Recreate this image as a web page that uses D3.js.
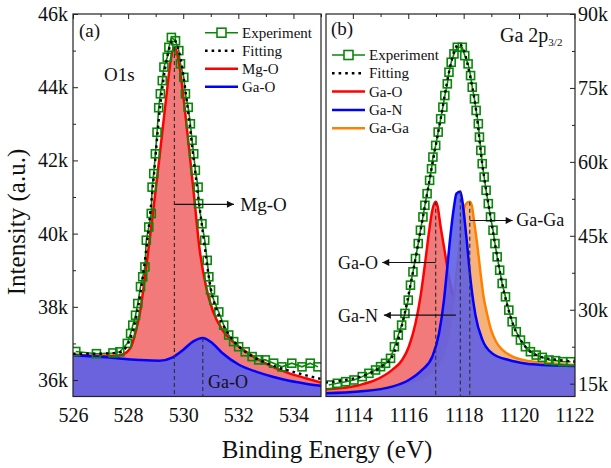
<!DOCTYPE html>
<html><head><meta charset="utf-8">
<script src="https://cdn.jsdelivr.net/npm/d3@7"></script>
<style>
html,body{margin:0;padding:0;background:#fff;}
svg, svg text{font-family:'Liberation Serif','Times New Roman',Tinos,'DejaVu Serif',serif;}
</style></head><body>
<svg id="chart" width="611" height="468"></svg>
<script>
// ---------- Panel (a): O 1s ----------
const o1sExpE = [526.1,526.85,527.45,527.7,527.97,528.09,528.17,528.27,528.35,528.45,528.53,528.61,528.66,528.75,528.84,528.87,528.93,528.99,529.05,529.11,529.17,529.24,529.30,529.42,529.48,529.57,529.72,529.84,529.90,530.02,530.08,530.18,530.26,530.32,530.38,530.44,530.54,530.56,530.68,530.78,530.87,530.93,530.99,531.11,531.29,531.47,531.65,531.83,532.01,532.25,532.50,532.74,532.98,533.28,533.58,533.94,534.31,534.61,534.89];
const o1sExpI = [36780,36720,36740,36770,37000,37270,37500,37770,38090,38550,38820,39090,39820,40180,40550,41270,41640,42180,42770,43440,43820,44180,44550,44820,45090,45360,45270,45000,44640,44270,43820,43450,43000,42550,42180,41730,41270,40820,40270,39820,39270,38820,38460,38180,37860,37500,37230,37050,36910,36770,36640,36550,36550,36460,36360,36460,36360,36460,36360];
const o1sFitE = [526.0,527.0,527.7,528.0,528.3,528.6,528.9,529.15,529.4,529.65,529.9,530.15,530.4,530.7,531.0,531.3,531.65,532.0,532.5,533.0,533.5,534.0,534.5,535.0];
const o1sFitI = [36720,36720,36760,37000,37750,39200,41300,43400,44750,45300,44800,43500,41900,40100,38500,37750,37250,36930,36650,36470,36330,36220,36120,36030];
const mgoE = [526.0,527.0,527.5,527.8,528.1,528.25,528.42,528.66,528.9,529.14,529.38,529.56,529.68,529.86,530.05,530.23,530.41,530.59,530.83,531.07,531.43,531.8,532.04,532.64,533.25,533.85,534.45,535.0];
const mgoI = [36700,36660,36660,36700,36900,37250,37800,39100,40550,42100,43700,44800,45100,44600,43450,42200,40900,39600,38550,37900,37360,37050,36900,36600,36360,36180,36050,35930];
const gaoAE = [526.0,527.2,528.4,529.14,529.62,529.99,530.35,530.71,531.07,531.43,532.04,532.64,533.25,533.85,534.45,535.0];
const gaoAI = [36680,36620,36550,36530,36620,36820,37050,37150,37000,36730,36410,36230,36090,35980,35900,35840];
const o1sPeakE = [529.68, 530.71];
const o1sPeakI = [45100, 37150];

// ---------- Panel (b): Ga 2p3/2 ----------
const gaExpE = [1113.13,1113.44,1113.74,1114.04,1114.34,1114.58,1114.82,1115.00,1115.18,1115.36,1115.50,1115.64,1115.76,1115.88,1116.00,1116.08,1116.17,1116.26,1116.36,1116.44,1116.53,1116.60,1116.68,1116.77,1116.84,1116.89,1116.99,1117.08,1117.17,1117.25,1117.32,1117.41,1117.47,1117.55,1117.65,1117.77,1117.95,1118.04,1118.16,1118.25,1118.31,1118.39,1118.45,1118.53,1118.57,1118.62,1118.67,1118.74,1118.81,1118.89,1118.97,1119.06,1119.13,1119.21,1119.30,1119.39,1119.51,1119.63,1119.75,1119.90,1120.05,1120.23,1120.41,1120.62,1120.84,1121.08,1121.32,1121.58,1121.86];
const gaExpI = [14740,15080,15410,15750,16430,17100,17780,18450,19130,20140,22500,24860,26890,29250,31950,34990,37690,40390,43430,46130,48830,51190,53550,56250,58610,60980,63340,66040,68740,71100,73460,75830,78190,80210,81900,83250,83250,81560,79880,77510,75150,72790,70430,67730,65030,62330,59630,56930,54230,51530,48830,46130,43430,40730,38030,35330,32630,29930,27560,25540,23850,22500,21490,20810,20340,19800,19670,19460,19460];
const gaFitE = [1113.01,1113.74,1114.46,1115.06,1115.42,1115.76,1116.17,1116.53,1116.84,1117.17,1117.47,1117.65,1117.83,1118.01,1118.19,1118.45,1118.67,1118.89,1119.13,1119.39,1119.75,1120.23,1120.84,1121.44,1122.04];
const gaFitI = [15210,15750,16760,18580,20480,26550,37690,48820,58610,68740,78190,82240,83920,82570,78520,70420,59620,51520,43420,35320,27560,22500,20340,19800,19460];
const gaoBE = [1113.01,1114.22,1114.82,1115.42,1115.78,1116.02,1116.26,1116.44,1116.62,1116.74,1116.87,1116.99,1117.05,1117.17,1117.29,1117.47,1117.71,1117.95,1118.31,1118.79,1119.39,1120.23,1121.44,1122.04];
const gaoBI = [13860,14700,15750,17800,19800,22500,27200,32600,40000,45400,50200,51900,51200,46800,42750,36700,30600,26550,23200,20500,19100,18450,18100,17900];
const ganE = [1113.01,1114.22,1115.42,1116.02,1116.50,1116.87,1117.11,1117.29,1117.41,1117.53,1117.65,1117.74,1117.88,1117.95,1118.03,1118.13,1118.25,1118.43,1118.67,1119.03,1119.63,1120.23,1120.84,1122.04];
const ganI = [13050,13400,14400,15750,17800,20500,25200,32000,38700,45450,50850,53550,54000,52200,48500,43000,36000,28800,24000,21150,19800,19100,18800,18600];
const gagaE = [1113.01,1115.42,1116.62,1117.23,1117.59,1117.83,1117.95,1118.06,1118.22,1118.30,1118.37,1118.50,1118.61,1118.72,1118.84,1118.99,1119.17,1119.41,1119.77,1120.23,1120.84,1121.44,1122.04];
const gagaI = [13100,14500,16500,20500,30000,42000,48500,51300,51900,51000,48200,42800,37400,32600,29300,25900,23500,21800,20500,19700,19300,19000,18800];
const gaPeakE = [1116.99, 1117.88, 1118.22];
const gaPeakI = [51900, 54000, 51900];

// ticks
const xTicksA = [526,528,530,532,534];
const yTicksA = [36000,38000,40000,42000,44000,46000];
const xTicksB = [1114,1116,1118,1120,1122];
const yTicksB = [15000,30000,45000,60000,75000,90000];

// ---------- drawing ----------
const svg = d3.select("#chart");
const T = 14, B = 396.5;
const FONT = "'Liberation Serif','Times New Roman',Tinos,'DejaVu Serif',serif";
const xA = d3.scaleLinear().domain([526,535]).range([73,321]);
const yA = d3.scaleLinear().domain([35550,46000]).range([B,T]);
const xB = d3.scaleLinear().domain([1113.03,1122.02]).range([326,575]);
const yB = d3.scaleLinear().domain([12400,90000]).range([B,T]);

const defs = svg.append("defs");
defs.append("marker").attr("id","arr").attr("viewBox","0 0 10 10").attr("refX",10).attr("refY",5)
  .attr("markerWidth",9).attr("markerHeight",7).attr("markerUnits","userSpaceOnUse").attr("orient","auto")
  .append("path").attr("d","M0,0L10,5L0,10z").attr("fill","#111");
[["clipA",xA],["clipB",xB]].forEach(([id,x])=>{
  defs.append("clipPath").attr("id",id).append("rect")
    .attr("x",x.range()[0]).attr("y",T).attr("width",x.range()[1]-x.range()[0]).attr("height",B-T);
});

const zip = (E,I)=>E.map((e,i)=>[e,I[i]]);

function styleAxis(g, size){
  g.attr("font-family",FONT).attr("font-size",size);
  g.select(".domain").remove();
  g.selectAll("line").attr("stroke","#222");
  g.selectAll("text").attr("fill","#111").style("font-family",FONT);
}

function drawPanel(x, y, clip, comps, exp, fit, xt, yt, yMinor, yRight){
  const base = svg.append("g");
  const plot = base.append("g").attr("clip-path",`url(#${clip})`);
  const area = d3.area().x(d=>x(d[0])).y0(B).y1(d=>y(d[1])).curve(d3.curveMonotoneX);
  const line = d3.line().x(d=>x(d[0])).y(d=>y(d[1])).curve(d3.curveMonotoneX);
  comps.forEach(c=>{
    plot.append("path").datum(c.data).attr("d",area).attr("fill",c.fill).attr("fill-opacity",c.op);
    plot.append("path").datum(c.data).attr("d",line).attr("fill","none").attr("stroke",c.stroke).attr("stroke-width",2.5);
  });
  const ov = base.append("g").attr("clip-path",`url(#${clip})`);
  ov.append("path").datum(exp).attr("d",d3.line().x(d=>x(d[0])).y(d=>y(d[1])))
    .attr("fill","none").attr("stroke","#0a870a").attr("stroke-width",1.6);
  ov.selectAll("rect.s").data(exp).join("rect").attr("class","s")
    .attr("x",d=>x(d[0])-4).attr("y",d=>y(d[1])-4).attr("width",8).attr("height",8)
    .attr("fill","none").attr("stroke","#0a870a").attr("stroke-width",1.6);
  ov.append("path").datum(fit).attr("d",line).attr("fill","none").attr("stroke","#000")
    .attr("stroke-width",2.4).attr("stroke-dasharray","2.6,4");
  svg.append("rect").attr("x",x.range()[0]).attr("y",T).attr("width",x.range()[1]-x.range()[0]).attr("height",B-T)
    .attr("fill","none").attr("stroke","#222").attr("stroke-width",1.2);
  const d0 = x.domain();
  const allE = d3.range(Math.ceil(d0[0]), Math.floor(d0[1])+0.01, 1);
  const gt = svg.append("g").attr("transform",`translate(0,${T})`)
    .call(d3.axisTop(x).tickValues(allE.filter(v=>!xt.includes(v))).tickFormat(()=>"").tickSizeInner(-3).tickSizeOuter(0));
  styleAxis(gt,10);
  const gt2 = svg.append("g").attr("transform",`translate(0,${T})`)
    .call(d3.axisTop(x).tickValues(xt).tickFormat(()=>"").tickSizeInner(-5).tickSizeOuter(0));
  styleAxis(gt2,10);
  const gb = svg.append("g").attr("transform",`translate(0,${B})`)
    .call(d3.axisBottom(x).tickValues(xt).tickFormat(d3.format("d")).tickSizeInner(0).tickSizeOuter(0).tickPadding(11));
  styleAxis(gb,20);
  const xPos = yRight ? x.range()[1] : x.range()[0];
  const ax = yRight ? d3.axisRight : d3.axisLeft;
  const gy = svg.append("g").attr("transform",`translate(${xPos},0)`)
    .call(ax(y).tickValues(yt).tickFormat(d=>d/1000+"k").tickSizeInner(-5).tickSizeOuter(0).tickPadding(yRight?3:5));
  styleAxis(gy,20);
  const gy2 = svg.append("g").attr("transform",`translate(${xPos},0)`)
    .call(ax(y).tickValues(yMinor).tickFormat(()=>"").tickSizeInner(-3).tickSizeOuter(0));
  styleAxis(gy2,10);
  return ov;
}

const compsA = [
  {data:zip(mgoE,mgoI), fill:"#f27a7a", op:1, stroke:"#ff0000"},
  {data:zip(gaoAE,gaoAI), fill:"#5f5fe6", op:0.92, stroke:"#0000ff"}
];
drawPanel(xA,yA,"clipA",compsA,zip(o1sExpE,o1sExpI),zip(o1sFitE,o1sFitI),
  xTicksA,yTicksA,d3.range(37000,46000,2000),false);
const compsB = [
  {data:zip(gaoBE,gaoBI), fill:"#f27a7a", op:1, stroke:"#ff0000"},
  {data:zip(gagaE,gagaI), fill:"#f5b27a", op:1, stroke:"#ff8000"},
  {data:zip(ganE,ganI), fill:"#5f5fe6", op:0.9, stroke:"#0000ff"}
];
drawPanel(xB,yB,"clipB",compsB,zip(gaExpE,gaExpI),zip(gaFitE,gaFitI),
  xTicksB,yTicksB,d3.range(22500,90000,15000),true);

function dashed(x,y,E,I){
  E.forEach((e,i)=>svg.append("line").attr("x1",x(e)).attr("x2",x(e)).attr("y1",y(I[i])).attr("y2",B)
    .attr("stroke","#333").attr("stroke-width",1.2).attr("stroke-dasharray","4,3"));
}
dashed(xA,yA,o1sPeakE,o1sPeakI);
dashed(xB,yB,gaPeakE,gaPeakI);

function arrow(x,y,e1,e2,I){
  svg.append("line").attr("x1",x(e1)).attr("x2",x(e2)).attr("y1",y(I)).attr("y2",y(I))
    .attr("stroke","#111").attr("stroke-width",1.1).attr("marker-end","url(#arr)");
}
function label(px,py,t,anchor,size){
  return svg.append("text").attr("x",px).attr("y",py).attr("text-anchor",anchor||"start")
    .attr("font-size",size||18).attr("fill","#111").style("font-family",FONT).text(t);
}
arrow(xA,yA,529.68,531.84,40800);
label(xA(532.07),211,"Mg-O","start",19);
label(xA(530.9),388,"Ga-O","start",18);
label(79,37,"(a)","start",19);
label(104,81,"O1s","start",19);
arrow(xB,yB,1118.22,1119.77,48100);
label(xB(1119.9),226,"Ga-Ga","start",18);
arrow(xB,yB,1116.99,1115.06,39600);
label(378,269,"Ga-O","end",18);
arrow(xB,yB,1117.72,1115.12,28900);
label(378,322,"Ga-N","end",18);
label(331,35,"(b)","start",19);
const gtl = label(500,42,"Ga 2p","start",20);
gtl.append("tspan").attr("font-size",11).attr("dy",4).text("3/2");

function legend(x0,y0,dy,items){
  items.forEach((it,i)=>{
    const yy = y0 + i*dy;
    const l = svg.append("line").attr("x1",x0).attr("x2",x0+33).attr("y1",yy).attr("y2",yy);
    if(it.type==="exp"){
      l.attr("stroke","#0a870a").attr("stroke-width",1.6);
      svg.append("rect").attr("x",x0+12).attr("y",yy-4.5).attr("width",9).attr("height",9)
        .attr("fill","#fff").attr("stroke","#0a870a").attr("stroke-width",1.6);
    } else if(it.type==="fit"){
      l.attr("stroke","#000").attr("stroke-width",2.4).attr("stroke-dasharray","2.6,4");
    } else {
      l.attr("stroke",it.color).attr("stroke-width",2.5);
    }
    label(x0+37,yy+5,it.name,"start",15);
  });
}
legend(205,32.7,18,[
  {type:"exp",name:"Experiment"},{type:"fit",name:"Fitting"},
  {type:"line",color:"#ff0000",name:"Mg-O"},{type:"line",color:"#0000ff",name:"Ga-O"}]);
legend(332,55,18.3,[
  {type:"exp",name:"Experiment"},{type:"fit",name:"Fitting"},
  {type:"line",color:"#ff0000",name:"Ga-O"},{type:"line",color:"#0000ff",name:"Ga-N"},
  {type:"line",color:"#ff8000",name:"Ga-Ga"}]);

svg.append("text").attr("transform","translate(25,222) rotate(-90)").attr("text-anchor","middle")
  .attr("font-size",25).attr("fill","#111").style("font-family",FONT).text("Intensity (a.u.)");
svg.append("text").attr("x",327).attr("y",458).attr("text-anchor","middle")
  .attr("font-size",25).attr("fill","#111").style("font-family",FONT).text("Binding Energy (eV)");
</script>
</body></html>
